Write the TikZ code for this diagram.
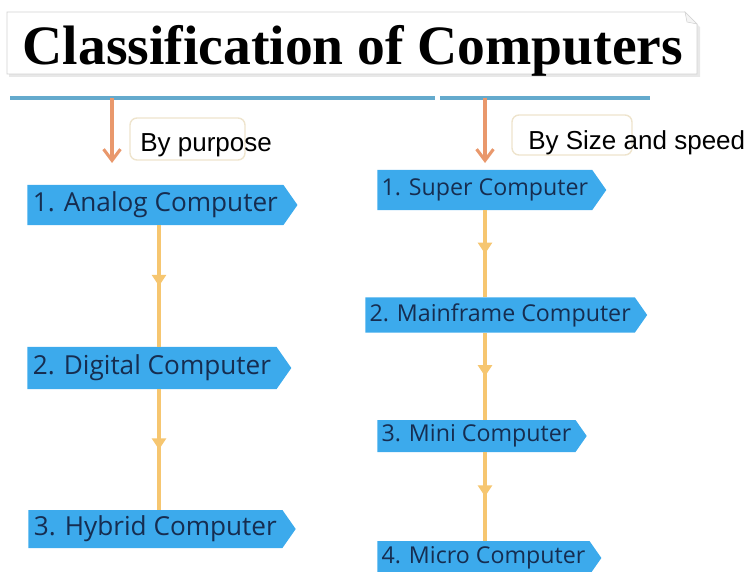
\documentclass[tikz,border=0pt]{standalone}
\usepackage{fontspec}
\usepackage{tikz}
\usetikzlibrary{shapes.symbols}
\usetikzlibrary{arrows.meta}
\usetikzlibrary{decorations.markings}
\newfontfamily\titlefont{Liberation Serif}
\newfontfamily\labelfont{Liberation Sans}
\newfontfamily\compfont{Open Sans}
\definecolor{compblue}{RGB}{60,170,236}
\definecolor{comptext}{RGB}{22,45,80}
\definecolor{railblue}{RGB}{100,170,205}
\definecolor{branchorange}{RGB}{233,152,108}
\definecolor{flowyellow}{RGB}{246,198,112}
\definecolor{tagborder}{RGB}{238,228,205}
\tikzset{
  comp/.style={signal, signal to=east, signal pointer angle=110, fill=compblue, text=comptext, anchor=west, inner xsep=4pt, minimum height=0.95cm},
  leftcomp/.style={comp, font=\compfont\fontsize{18.6pt}{20pt}\selectfont},
  rightcomp/.style={comp, inner xsep=3pt, font=\compfont\fontsize{16.5pt}{18pt}\selectfont},
  bylabel/.style={anchor=base west, inner sep=0pt, font=\labelfont\fontsize{18.5pt}{20pt}\selectfont},
  tagbox/.style={draw=tagborder, line width=1pt, rounded corners=5pt},
  rail/.style={draw=railblue, line width=2.6pt},
  branch/.style={draw=branchorange, line width=2.2pt, -{Straight Barb[length=8pt,width=12pt,line width=2.2pt]}},
  flow/.style={color=flowyellow, line width=2.4pt, postaction={decorate}, decoration={markings, mark=at position 0.5 with {\arrow{Triangle[length=8pt,width=10pt]}}}}
}

\begin{document}
\begin{tikzpicture}[x=0.025cm, y=-0.025cm]
  \useasboundingbox (0,0) rectangle (748,571);

  \fill[gray!18] (9,15) -- (687,15) -- (700,27) -- (700,77) -- (9,77) -- cycle;
  \draw[gray!35, fill=white] (7,12) -- (685,12) -- (697,24) -- (697,74) -- (7,74) -- cycle;
  \draw[gray!35, fill=gray!8] (685,12) -- (687,22) -- (697,24) -- cycle;
  \node (title) at (353,65) [anchor=base, inner sep=0pt, font=\titlefont\bfseries\fontsize{39.5pt}{44pt}\selectfont] {Classification of Computers};

  \draw[rail] (10,98) -- (435,98);
  \draw[rail] (440,98) -- (650,98);
  \coordinate (purpose root) at (112,98);
  \coordinate (purpose end) at (112,163);
  \coordinate (size root) at (485,98);
  \coordinate (size end) at (485,163);
  \draw[branch] (purpose root) -- (purpose end);
  \draw[branch] (size root) -- (size end);

  \draw[tagbox] (130,118) rectangle (245,160);
  \draw[tagbox] (512,115) rectangle (632,155);
  \node (purpose) at (140,152) [bylabel] {By purpose};
  \node (size) at (528,150) [bylabel] {By Size and speed};

  \node (analog) at (27,205) [leftcomp, minimum height=1cm] {1. Analog Computer};
  \node (digital) at (27,368) [leftcomp, minimum height=1.05cm] {2. Digital Computer};
  \node (hybrid) at (28,529) [leftcomp] {3. Hybrid Computer};

  \node (super) at (377,190) [rightcomp, minimum height=1cm] {1. Super Computer};
  \node (mainframe) at (365,315) [rightcomp, minimum height=0.875cm] {2. Mainframe Computer};
  \node (mini) at (377,436) [rightcomp, minimum height=0.8cm] {3. Mini Computer};
  \node (micro) at (377,558) [rightcomp, minimum height=0.85cm] {4. Micro Computer};

  \coordinate (left stem) at (159,0);
  \coordinate (right stem) at (485,0);
  \draw[flow] (analog.south -| left stem) -- (digital.north -| left stem);
  \draw[flow] (digital.south -| left stem) -- (hybrid.north -| left stem);
  \draw[flow] (super.south -| right stem) -- (mainframe.north -| right stem);
  \draw[flow] (mainframe.south -| right stem) -- (mini.north -| right stem);
  \draw[flow] (mini.south -| right stem) -- (micro.north -| right stem);
\end{tikzpicture}
\end{document}
